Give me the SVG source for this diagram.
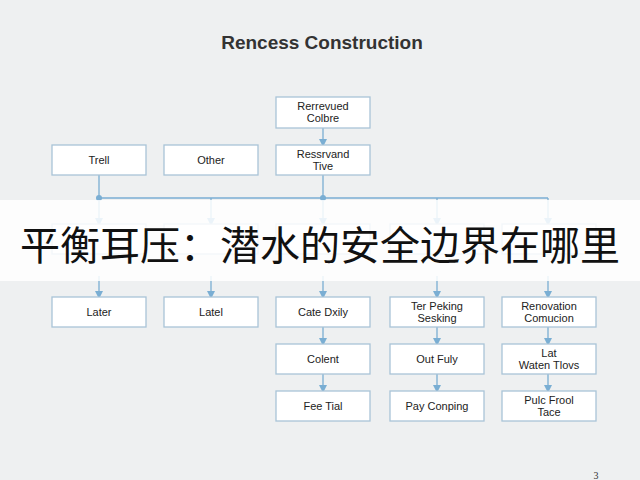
<svg xmlns="http://www.w3.org/2000/svg" width="640" height="480" viewBox="0 0 640 480">
<defs>
<marker id="ah" markerWidth="8" markerHeight="8" refX="4" refY="4" orient="auto" markerUnits="userSpaceOnUse"><path d="M0,0 L8,4 L0,8 z" fill="#7aaed3"/></marker>
<style>
.b{fill:#fff;stroke:#a9c4d8;stroke-width:1.3}
.t{font-family:"Liberation Sans",Arial,sans-serif;font-size:11px;fill:#222;text-anchor:middle}
.c{stroke:#7aaed3;stroke-width:1.3;fill:none}
</style>
</defs>
<rect width="640" height="480" fill="#eef0f1"/>
<text x="322" y="49" font-family="Liberation Sans,Arial,sans-serif" font-size="19" font-weight="bold" fill="#333" text-anchor="middle">Rencess Construction</text>
<g id="connectors">
<line class="c" x1="323" y1="127" x2="323" y2="143" marker-end="url(#ah)"/>
<line class="c" x1="323" y1="175" x2="323" y2="198"/>
<line class="c" x1="99" y1="175" x2="99" y2="198"/>
<line class="c" x1="99" y1="198" x2="548" y2="198"/>
<circle cx="99" cy="198" r="3" fill="#7aaed3"/>
<circle cx="323" cy="198" r="3" fill="#7aaed3"/>
<line class="c" x1="99" y1="198" x2="99" y2="222" marker-end="url(#ah)"/>
<line class="c" x1="211" y1="198" x2="211" y2="222" marker-end="url(#ah)"/>
<line class="c" x1="323" y1="198" x2="323" y2="222" marker-end="url(#ah)"/>
<line class="c" x1="437" y1="198" x2="437" y2="222" marker-end="url(#ah)"/>
<line class="c" x1="548" y1="198" x2="548" y2="222" marker-end="url(#ah)"/>
<line class="c" x1="99" y1="276" x2="99" y2="295" marker-end="url(#ah)"/>
<line class="c" x1="211" y1="276" x2="211" y2="295" marker-end="url(#ah)"/>
<line class="c" x1="323" y1="276" x2="323" y2="295" marker-end="url(#ah)"/>
<line class="c" x1="437" y1="276" x2="437" y2="295" marker-end="url(#ah)"/>
<line class="c" x1="548" y1="276" x2="548" y2="295" marker-end="url(#ah)"/>
<line class="c" x1="323" y1="327" x2="323" y2="342" marker-end="url(#ah)"/>
<line class="c" x1="437" y1="327" x2="437" y2="342" marker-end="url(#ah)"/>
<line class="c" x1="548" y1="327" x2="548" y2="342" marker-end="url(#ah)"/>
<line class="c" x1="323" y1="374" x2="323" y2="389" marker-end="url(#ah)"/>
<line class="c" x1="437" y1="374" x2="437" y2="389" marker-end="url(#ah)"/>
<line class="c" x1="548" y1="374" x2="548" y2="389" marker-end="url(#ah)"/>
</g>
<g id="n-top"><rect class="b" x="276" y="97" width="94" height="31"/><text class="t" x="323" y="110">Rerrevued</text><text class="t" x="323" y="122">Colbre</text></g>
<g id="n-trell"><rect class="b" x="52" y="145" width="94" height="30"/><text class="t" x="99" y="164">Trell</text></g>
<g id="n-other"><rect class="b" x="164" y="145" width="94" height="30"/><text class="t" x="211" y="164">Other</text></g>
<g id="n-ress"><rect class="b" x="276" y="145" width="94" height="30"/><text class="t" x="323" y="158">Ressrvand</text><text class="t" x="323" y="170">Tive</text></g>
<g id="hidden-row">
<rect class="b" x="52" y="224" width="94" height="30"/>
<rect class="b" x="164" y="224" width="94" height="30"/>
<rect class="b" x="276" y="224" width="94" height="30"/>
<rect class="b" x="390" y="224" width="94" height="30"/>
<rect class="b" x="502" y="224" width="94" height="30"/>
</g>
<g id="n-later"><rect class="b" x="52" y="297" width="94" height="30"/><text class="t" x="99" y="316">Later</text></g>
<g id="n-latel"><rect class="b" x="164" y="297" width="94" height="30"/><text class="t" x="211" y="316">Latel</text></g>
<g id="n-cate"><rect class="b" x="276" y="297" width="94" height="30"/><text class="t" x="323" y="316">Cate Dxily</text></g>
<g id="n-ter"><rect class="b" x="390" y="297" width="94" height="30"/><text class="t" x="437" y="310">Ter Peking</text><text class="t" x="437" y="322">Sesking</text></g>
<g id="n-reno"><rect class="b" x="502" y="297" width="94" height="30"/><text class="t" x="549" y="310">Renovation</text><text class="t" x="549" y="322">Comucion</text></g>
<g id="n-colent"><rect class="b" x="276" y="344" width="94" height="30"/><text class="t" x="323" y="363">Colent</text></g>
<g id="n-out"><rect class="b" x="390" y="344" width="94" height="30"/><text class="t" x="437" y="363">Out Fuly</text></g>
<g id="n-lat"><rect class="b" x="502" y="344" width="94" height="30"/><text class="t" x="549" y="357">Lat</text><text class="t" x="549" y="369">Waten Tlovs</text></g>
<g id="n-fee"><rect class="b" x="276" y="391" width="94" height="30"/><text class="t" x="323" y="410">Fee Tial</text></g>
<g id="n-pay"><rect class="b" x="390" y="391" width="94" height="30"/><text class="t" x="437" y="410">Pay Conping</text></g>
<g id="n-pulc"><rect class="b" x="502" y="391" width="94" height="30"/><text class="t" x="549" y="404">Pulc Frool</text><text class="t" x="549" y="416">Tace</text></g>
<text x="596" y="479" font-family="Liberation Serif,serif" font-size="10" fill="#333" text-anchor="middle">3</text>
<rect x="0" y="200" width="640" height="81" fill="#fff" fill-opacity="0.85"/>
<text x="320" y="260" font-family="Noto Sans CJK SC,sans-serif" font-size="40" fill="#111" text-anchor="middle">平衡耳压：潜水的安全边界在哪里</text>
</svg>
